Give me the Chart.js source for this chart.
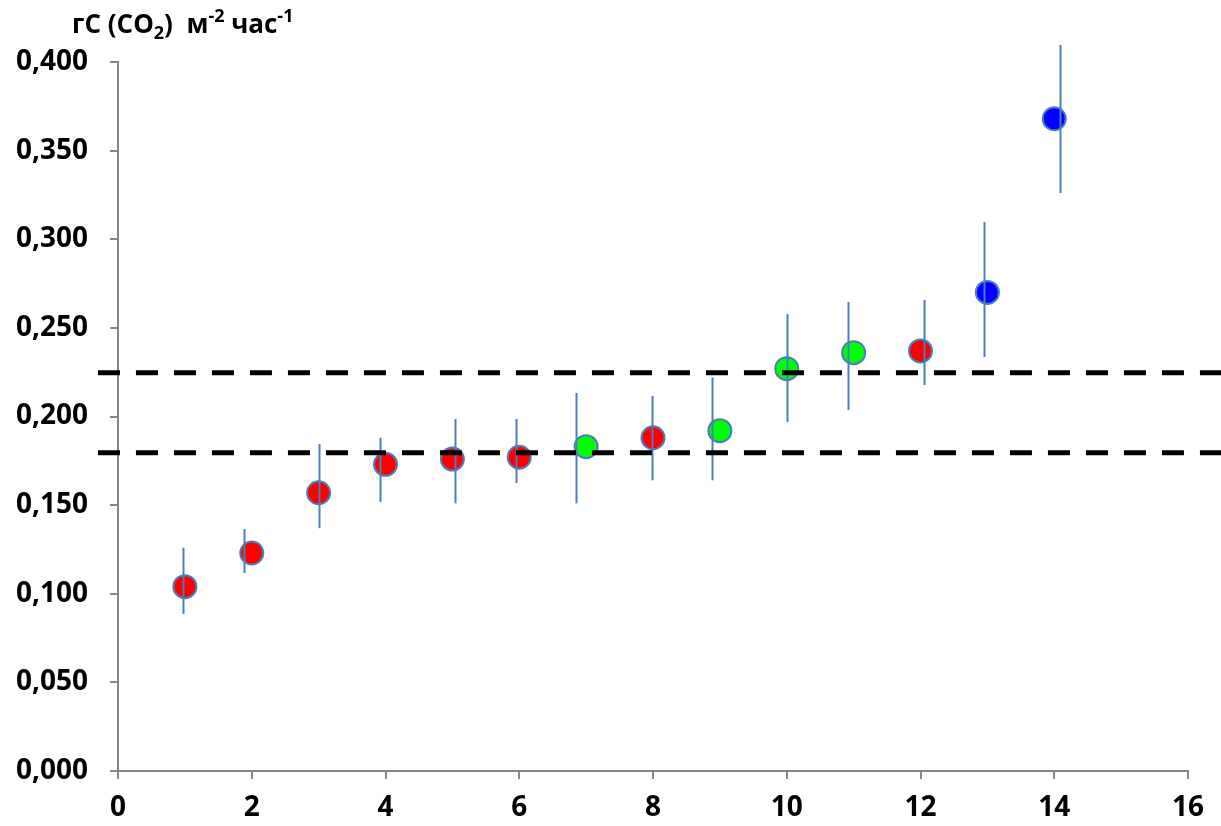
<!DOCTYPE html>
<html>
<head>
<meta charset="utf-8">
<script src="https://cdn.jsdelivr.net/npm/chart.js@4/dist/chart.umd.min.js"></script>
<style>
    html, body { margin: 0; padding: 0; background: #fff; }
    #wrap { width: 1221px; height: 826px; }
</style>
</head>
<body>
<div id="wrap"><canvas id="myChart" width="1221" height="826"></canvas></div>
<script>
// sample number, mean flux and error bar ends
const sampleNo = [1, 2, 3, 4, 5, 6, 7, 8, 9, 10, 11, 12, 13, 14];
const fluxMean = [0.104, 0.123, 0.157, 0.173, 0.176, 0.177, 0.183, 0.188, 0.192, 0.227, 0.236, 0.237, 0.270, 0.368];
const errHigh  = [0.126, 0.1365, 0.1845, 0.188, 0.1986, 0.1986, 0.2133, 0.2116, 0.222, 0.2578, 0.2646, 0.2657, 0.3097, 0.4096];
const errLow   = [0.0886, 0.1117, 0.137, 0.1518, 0.151, 0.1625, 0.151, 0.164, 0.164, 0.1969, 0.2037, 0.2178, 0.2336, 0.3261];
// error bars sit a little off the marker centre
const errX     = [0.97, 1.88, 3.0, 3.92, 5.04, 5.95, 6.85, 7.98, 8.88, 10.01, 10.92, 12.05, 12.95, 14.09];
const pointColor = ['#ff0000', '#ff0000', '#ff0000', '#ff0000', '#ff0000', '#ff0000', '#00ff00',
                    '#ff0000', '#00ff00', '#00ff00', '#00ff00', '#ff0000', '#0000ff', '#0000ff'];

// horizontal reference levels
const levelLow = 0.1796;
const levelHigh = 0.2247;
const levelSpan = [-0.3, 16.5];

const yTickLabels = ['0,000', '0,050', '0,100', '0,150', '0,200', '0,250', '0,300', '0,350', '0,400'];
const xTickLabels = ['0', '2', '4', '6', '8', '10', '12', '14', '16'];

const axisGrey = '#868686';
const barBlue = '#4a7ebb';
const tickFont = { family: 'Open Sans', size: 28, weight: 'bold' };

const errorBars = {
    id: 'errorBars',
    afterDatasetDraw(chart, args) {
        if (args.index !== 2) return;
        const ctx = chart.ctx;
        const xs = chart.scales.x, ys = chart.scales.y;
        ctx.save();
        ctx.strokeStyle = barBlue;
        ctx.lineWidth = 2;
        for (let i = 0; i < sampleNo.length; i++) {
            const px = Math.round(xs.getPixelForValue(errX[i])) + 0.5;
            ctx.beginPath();
            ctx.moveTo(px, ys.getPixelForValue(errHigh[i]));
            ctx.lineTo(px, ys.getPixelForValue(errLow[i]));
            ctx.stroke();
        }
        ctx.restore();
    }
};

// unit label: гС (CO2) м-2 час-1 with sub/superscripts
const unitTitle = {
    id: 'unitTitle',
    afterDraw(chart) {
        const ctx = chart.ctx;
        const parts = [
            ['гС (CO', 0], ['2', 1], [')  м', 0], ['-2', -1], [' час', 0], ['-1', -1]
        ];
        let x = 72;
        const base = 33;
        ctx.save();
        ctx.fillStyle = '#000';
        ctx.textBaseline = 'alphabetic';
        for (const [txt, kind] of parts) {
            if (kind === 0) {
                ctx.font = 'bold 26px "Open Sans"';
                ctx.fillText(txt, x, base);
            } else {
                ctx.font = 'bold 18px "Open Sans"';
                ctx.fillText(txt, x, kind > 0 ? base + 6 : base - 11);
            }
            x += ctx.measureText(txt).width;
        }
        ctx.restore();
    }
};

const ctx = document.getElementById('myChart').getContext('2d');
const myChart = new Chart(ctx, {
    type: 'scatter',
    data: {
        datasets: [
            {
                data: levelSpan.map(v => ({ x: v, y: levelHigh })),
                type: 'line',
                borderColor: '#000',
                borderWidth: 5,
                borderDash: [22, 16],
                pointRadius: 0,
                clip: false,
                order: 0
            },
            {
                data: levelSpan.map(v => ({ x: v, y: levelLow })),
                type: 'line',
                borderColor: '#000',
                borderWidth: 5,
                borderDash: [22, 16],
                pointRadius: 0,
                clip: false,
                order: 0
            },
            {
                data: sampleNo.map((n, i) => ({ x: n, y: fluxMean[i] })),
                backgroundColor: pointColor,
                borderColor: barBlue,
                borderWidth: 2,
                pointRadius: 11.5,
                clip: false,
                order: 1
            }
        ]
    },
    options: {
        responsive: false,
        animation: false,
        layout: { padding: { top: 62, right: 33, left: 0, bottom: 0 } },
        plugins: {
            legend: { display: false },
            tooltip: { enabled: false }
        },
        scales: {
            x: {
                type: 'linear',
                min: 0,
                max: 16,
                afterFit: (s) => { s.height = 55; },
                ticks: {
                    stepSize: 2,
                    color: '#000',
                    font: tickFont,
                    padding: 12,
                    maxRotation: 0,
                    callback: (v, i) => xTickLabels[i]
                },
                grid: { drawOnChartArea: false, drawTicks: true, tickLength: 8, color: axisGrey, lineWidth: 2 },
                border: { color: axisGrey, width: 2 }
            },
            y: {
                min: 0,
                max: 0.4,
                afterFit: (s) => { s.width = 118; },
                ticks: {
                    stepSize: 0.05,
                    color: '#000',
                    font: tickFont,
                    padding: 22,
                    callback: (v, i) => yTickLabels[i]
                },
                grid: { drawOnChartArea: false, drawTicks: true, tickLength: 8, color: axisGrey, lineWidth: 2 },
                border: { color: axisGrey, width: 2 }
            }
        }
    },
    plugins: [errorBars, unitTitle]
});
</script>
</body>
</html>
